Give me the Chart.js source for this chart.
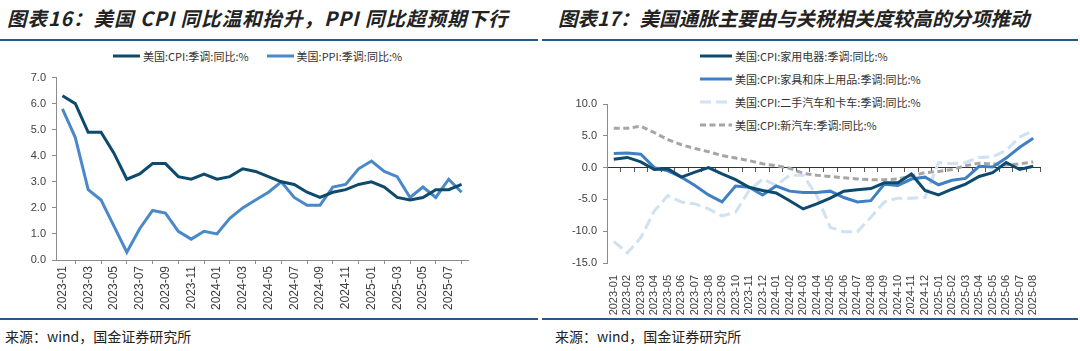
<!DOCTYPE html>
<html>
<head>
<meta charset="utf-8">
<script src="https://cdn.jsdelivr.net/npm/chart.js@4.4.0/dist/chart.umd.min.js"></script>
<style>
  body { margin: 0; width: 1080px; height: 351px; background: #fff; position: relative; overflow: hidden;
         font-family: "Noto Sans CJK SC", "Liberation Sans", sans-serif; }
  .title { position: absolute; top: 3px; font-size: 19.5px; font-weight: bold; font-style: italic; color: #222; white-space: nowrap; }
  .rule { position: absolute; height: 2px; background: #245a8a; }
  .src { position: absolute; top: 326px; font-size: 14px; color: #222; white-space: nowrap; }
  .legend { position: absolute; font-size: 11px; color: #333; white-space: nowrap; }
  .legend .item { display: flex; align-items: center; height: 14px; }
  .legend svg { margin-right: 3px; }
  #leg1 { left: 113px; top: 49px; display: flex; gap: 18px; }
  #leg2 { left: 700px; top: 49px; display: flex; flex-direction: column; gap: 9px; }
  canvas { position: absolute; }
</style>
</head>
<body>
<div class="title" style="left:7px;letter-spacing:1px">图表16：美国 CPI 同比温和抬升，PPI 同比超预期下行</div>
<div class="title" style="left:558px">图表17：美国通胀主要由与关税相关度较高的分项推动</div>
<div class="rule" style="left:0;width:538px;top:39px"></div>
<div class="rule" style="left:542px;width:536px;top:39px"></div>
<div class="rule" style="left:0;width:538px;top:318px"></div>
<div class="rule" style="left:542px;width:536px;top:318px"></div>
<div class="src" style="left:5px">来源：wind，国金证券研究所</div>
<div class="src" style="left:555px">来源：wind，国金证券研究所</div>
<div class="legend" id="leg1"></div>
<div class="legend" id="leg2"></div>
<canvas id="chartLeft" width="540" height="255" style="left:0;top:65px"></canvas>
<canvas id="chartRight" width="540" height="230" style="left:540px;top:90px"></canvas>
<script>
// months, 2023-01 .. 2025-08
const months = ['2023-01','2023-02','2023-03','2023-04','2023-05','2023-06','2023-07','2023-08',
  '2023-09','2023-10','2023-11','2023-12','2024-01','2024-02','2024-03','2024-04',
  '2024-05','2024-06','2024-07','2024-08','2024-09','2024-10','2024-11','2024-12',
  '2025-01','2025-02','2025-03','2025-04','2025-05','2025-06','2025-07','2025-08'];

// left chart
const cpi = [6.3,6.0,4.9,4.9,4.1,3.1,3.3,3.7,3.7,3.2,3.1,3.3,3.1,3.2,3.5,3.4,
  3.2,3.0,2.9,2.6,2.4,2.6,2.7,2.9,3.0,2.8,2.4,2.3,2.4,2.7,2.7,2.9];
const ppi = [5.8,4.7,2.7,2.3,1.3,0.3,1.2,1.9,1.8,1.1,0.8,1.1,1.0,1.6,2.0,2.3,
  2.6,3.0,2.4,2.1,2.1,2.8,2.9,3.5,3.8,3.4,3.2,2.4,2.8,2.4,3.1,2.6];

// right chart
const appliances = [1.3,1.6,0.9,-0.3,-0.2,-1.5,-0.7,0.0,-1.0,-1.9,-3.1,-3.6,-4.0,-5.2,-6.5,-5.7,
  -4.8,-3.7,-3.5,-3.3,-2.4,-2.4,-1.0,-3.6,-4.3,-3.4,-2.6,-1.4,-0.8,0.8,-0.3,0.2];
const furniture = [2.2,2.3,2.1,0.0,-0.5,-1.5,-2.8,-4.3,-5.4,-2.9,-3.1,-4.3,-2.9,-3.7,-3.9,-3.9,
  -3.7,-4.7,-5.4,-5.2,-2.6,-2.8,-1.8,-1.5,-2.7,-2.0,-1.7,0.2,0.1,1.5,3.2,4.6];
const usedCars = [-11.6,-13.4,-11.0,-6.8,-4.4,-5.4,-5.7,-6.5,-7.6,-7.0,-3.6,-1.8,-2.8,-1.2,-1.2,-4.4,
  -9.4,-10.1,-10.1,-7.8,-5.4,-4.8,-4.8,-4.7,0.8,0.6,0.8,1.6,1.7,2.7,4.8,5.8];
const newCars = [6.2,6.2,6.5,5.5,4.4,3.6,3.0,2.5,1.9,1.5,1.1,0.6,0.3,-0.1,-0.9,-1.2,
  -1.4,-1.6,-1.8,-1.9,-1.9,-1.8,-1.3,-0.8,-0.6,-0.3,0.3,0.7,0.6,0.4,0.6,0.9];

const tickFont = { family: 'Liberation Sans', size: 11 };
const tickColor = '#404040';
const axisColor = '#8c8c8c';

function buildLegend(chart, box, w) {
  chart.data.datasets.forEach(ds => {
    const item = document.createElement('div');
    item.className = 'item';
    const dash = ds.borderDash ? 'stroke-dasharray="' + ds.borderDash.join(' ') + '"' : '';
    item.innerHTML = '<svg width="' + w + '" height="6"><line x1="0" y1="3" x2="' + w + '" y2="3" stroke="' +
      ds.borderColor + '" stroke-width="3" ' + dash + '/></svg><span>' + ds.label + '</span>';
    box.appendChild(item);
  });
}

function lineSet(label, data, color, dash) {
  const ds = { label: label, data: data, borderColor: color, backgroundColor: color,
    borderWidth: 3, pointRadius: 0, tension: 0, fill: false };
  if (dash) ds.borderDash = dash;
  return ds;
}

const left = new Chart(document.getElementById('chartLeft'), {
  type: 'line',
  data: {
    labels: months,
    datasets: [
      lineSet('美国:CPI:季调:同比:%', cpi, '#0e4a6e'),
      lineSet('美国:PPI:季调:同比:%', ppi, '#4a89c8')
    ]
  },
  options: {
    responsive: false, animation: false, devicePixelRatio: 1,
    layout: { padding: { top: 10, right: 72, left: 0, bottom: 0 } },
    plugins: { legend: { display: false }, tooltip: { enabled: false } },
    scales: {
      x: {
        offset: true,
        grid: { offset: true, drawOnChartArea: false, tickLength: 4, color: axisColor },
        border: { color: axisColor },
        ticks: { autoSkip: false, maxRotation: 90, minRotation: 90, padding: 2, color: tickColor,
          font: { family: 'Liberation Sans', size: 12 },
          callback: (v, i) => i % 2 === 0 ? months[i] : null },
        afterFit: s => { s.height = 60; }
      },
      y: {
        min: 0, max: 7,
        grid: { drawOnChartArea: false, tickLength: 4, color: axisColor },
        border: { color: axisColor },
        ticks: { stepSize: 1, color: tickColor, font: tickFont, padding: 6,
          callback: v => v.toFixed(1) },
        afterFit: s => { s.width = 56; }
      }
    }
  }
});
buildLegend(left, document.getElementById('leg1'), 27);

const right = new Chart(document.getElementById('chartRight'), {
  type: 'line',
  data: {
    labels: months,
    datasets: [
      lineSet('美国:CPI:家用电器:季调:同比:%', appliances, '#0e4a6e'),
      lineSet('美国:CPI:家具和床上用品:季调:同比:%', furniture, '#3f80c4'),
      lineSet('美国:CPI:二手汽车和卡车:季调:同比:%', usedCars, '#cfe1f3', [11, 5]),
      lineSet('美国:CPI:新汽车:季调:同比:%', newCars, '#a6a6a6', [6, 3.5])
    ]
  },
  options: {
    responsive: false, animation: false, devicePixelRatio: 1,
    layout: { padding: { top: 14, right: 40, left: 0, bottom: 0 } },
    plugins: { legend: { display: false }, tooltip: { enabled: false } },
    scales: {
      x: {
        offset: true,
        grid: { display: false },
        border: { display: false },
        ticks: { autoSkip: false, maxRotation: 90, minRotation: 90, padding: 4, color: tickColor, font: tickFont },
        afterFit: s => { s.height = 57; }
      },
      x2: {
        type: 'category', labels: months, offset: true, position: { y: 0 },
        grid: { offset: true, drawOnChartArea: false, tickLength: 4, color: '#555' },
        border: { color: '#333' },
        ticks: { display: false },
        afterFit: s => { s.height = 0; }
      },
      y: {
        min: -15, max: 10,
        grid: { drawOnChartArea: false, tickLength: 4, color: axisColor },
        border: { color: axisColor },
        ticks: { stepSize: 5, color: tickColor, font: tickFont, padding: 6,
          callback: v => v.toFixed(1) },
        afterFit: s => { s.width = 67; }
      }
    }
  }
});
buildLegend(right, document.getElementById('leg2'), 32);
</script>
</body>
</html>
